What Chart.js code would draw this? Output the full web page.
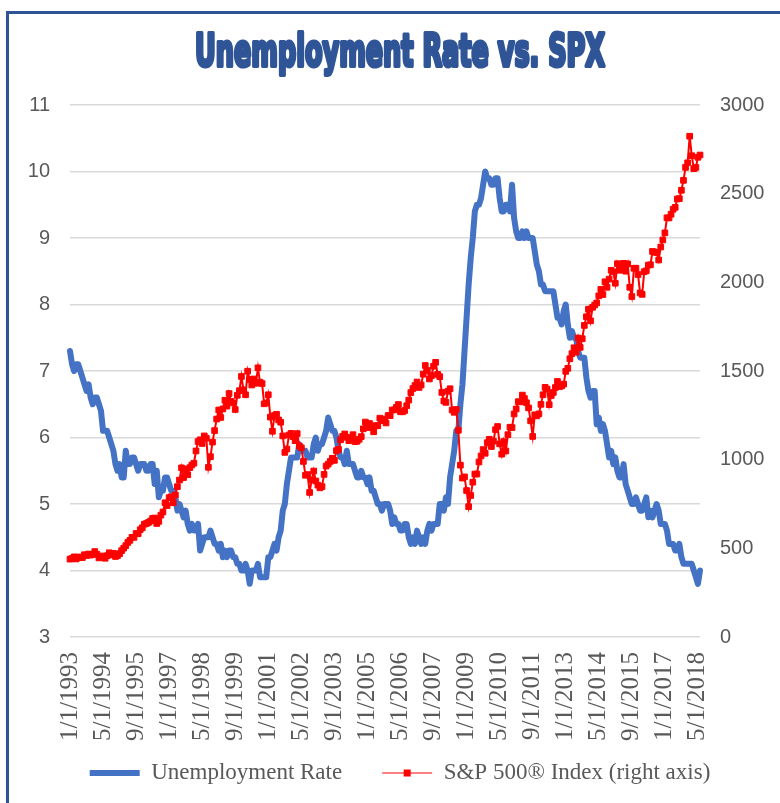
<!DOCTYPE html>
<html>
<head>
<meta charset="utf-8">
<script src="https://cdn.jsdelivr.net/npm/chart.js@4.4.1/dist/chart.umd.min.js"></script>
<style>
  html, body { margin: 0; padding: 0; background: #fff; overflow: hidden; }
  #wrap { position: relative; width: 780px; height: 803px; }
  #frame { position: absolute; left: 6px; top: 11px; width: 820px; height: 840px; border: 3px solid #2F5597; box-sizing: border-box; }
  #chart { position: absolute; left: 0; top: 0; }
</style>
</head>
<body>
<div id="wrap">
  <div id="frame"></div>
  <canvas id="chart" width="780" height="803"></canvas>
</div>
<script>
// 月次データ 1993年1月 〜 2018年6月
const START_YEAR = 1993;
const TITLE = 'Unemployment Rate vs. SPX';
const TICK_LABELS = [
  '1/1/1993', '5/1/1994', '9/1/1995', '1/1/1997', '5/1/1998', '9/1/1999', '1/1/2001',
  '5/1/2002', '9/1/2003', '1/1/2005', '5/1/2006', '9/1/2007', '1/1/2009', '5/1/2010',
  '9/1/2011', '1/1/2013', '5/1/2014', '9/1/2015', '1/1/2017', '5/1/2018',
];
const TICK_EVERY = 16;

// 失業率 (%)
const unemployment = [
  7.3, 7.1, 7.0, 7.1, 7.1, 7.0, 6.9, 6.8, 6.7, 6.8, 6.6, 6.5,
  6.6, 6.6, 6.5, 6.4, 6.1, 6.1, 6.1, 6.0, 5.9, 5.8, 5.6, 5.5,
  5.6, 5.4, 5.4, 5.8, 5.6, 5.6, 5.7, 5.7, 5.6, 5.5, 5.6, 5.6,
  5.6, 5.5, 5.5, 5.6, 5.6, 5.3, 5.5, 5.1, 5.2, 5.2, 5.4, 5.4,
  5.3, 5.2, 5.2, 5.1, 4.9, 5.0, 4.9, 4.8, 4.9, 4.7, 4.6, 4.7,
  4.6, 4.6, 4.7, 4.3, 4.4, 4.5, 4.5, 4.5, 4.6, 4.5, 4.4, 4.4,
  4.3, 4.4, 4.2, 4.3, 4.2, 4.3, 4.3, 4.2, 4.2, 4.1, 4.1, 4.0,
  4.0, 4.1, 4.0, 3.8, 4.0, 4.0, 4.0, 4.1, 3.9, 3.9, 3.9, 3.9,
  4.2, 4.2, 4.3, 4.4, 4.3, 4.5, 4.6, 4.9, 5.0, 5.3, 5.5, 5.7,
  5.7, 5.7, 5.7, 5.9, 5.8, 5.8, 5.8, 5.7, 5.7, 5.7, 5.9, 6.0,
  5.8, 5.9, 5.9, 6.0, 6.1, 6.3, 6.2, 6.1, 6.1, 6.0, 5.8, 5.7,
  5.7, 5.6, 5.8, 5.6, 5.6, 5.6, 5.5, 5.4, 5.4, 5.5, 5.4, 5.4,
  5.3, 5.4, 5.2, 5.2, 5.1, 5.0, 5.0, 4.9, 5.0, 5.0, 5.0, 4.9,
  4.7, 4.8, 4.7, 4.7, 4.6, 4.6, 4.7, 4.7, 4.5, 4.4, 4.5, 4.4,
  4.6, 4.5, 4.4, 4.5, 4.4, 4.6, 4.7, 4.6, 4.7, 4.7, 4.7, 5.0,
  5.0, 4.9, 5.1, 5.0, 5.4, 5.6, 5.8, 6.1, 6.1, 6.5, 6.8, 7.3,
  7.8, 8.3, 8.7, 9.0, 9.4, 9.5, 9.5, 9.6, 9.8, 10.0, 9.9, 9.9,
  9.8, 9.8, 9.9, 9.9, 9.6, 9.4, 9.4, 9.5, 9.5, 9.4, 9.8, 9.3,
  9.1, 9.0, 9.0, 9.1, 9.0, 9.1, 9.0, 9.0, 9.0, 8.8, 8.6, 8.5,
  8.3, 8.3, 8.2, 8.2, 8.2, 8.2, 8.2, 8.0, 7.8, 7.8, 7.7, 7.9,
  8.0, 7.7, 7.5, 7.6, 7.5, 7.5, 7.3, 7.2, 7.2, 7.2, 6.9, 6.7,
  6.6, 6.7, 6.7, 6.2, 6.3, 6.1, 6.2, 6.1, 5.9, 5.7, 5.8, 5.6,
  5.7, 5.5, 5.4, 5.4, 5.6, 5.3, 5.2, 5.1, 5.0, 5.0, 5.1, 5.0,
  4.9, 4.9, 5.0, 5.1, 4.8, 4.9, 4.8, 4.9, 5.0, 4.9, 4.7, 4.7,
  4.7, 4.6, 4.4, 4.4, 4.4, 4.3, 4.3, 4.4, 4.2, 4.1, 4.1, 4.1,
  4.1, 4.1, 4.0, 3.9, 3.8, 4.0,
];

// S&P 500 月末終値
const spx = [
  439, 443, 452, 440, 450, 451, 448, 464, 459, 468, 462, 466,
  482, 467, 446, 451, 457, 444, 458, 475, 463, 472, 454, 459,
  470, 487, 501, 515, 533, 545, 562, 562, 584, 582, 605, 616,
  636, 640, 646, 654, 669, 671, 640, 652, 687, 705, 757, 741,
  786, 791, 757, 801, 848, 885, 954, 899, 947, 915, 955, 970,
  980, 1049, 1102, 1112, 1091, 1134, 1121, 957, 1017, 1099, 1164, 1229,
  1280, 1238, 1286, 1335, 1302, 1373, 1329, 1320, 1283, 1363, 1389, 1469,
  1394, 1366, 1499, 1452, 1421, 1455, 1431, 1518, 1437, 1429, 1315, 1320,
  1366, 1240, 1160, 1249, 1256, 1224, 1211, 1134, 1041, 1060, 1139, 1148,
  1130, 1107, 1147, 1077, 1067, 990, 912, 916, 815, 886, 936, 880,
  856, 841, 848, 917, 964, 975, 990, 1008, 996, 1051, 1058, 1112,
  1131, 1145, 1126, 1107, 1121, 1141, 1102, 1104, 1115, 1130, 1174, 1212,
  1181, 1204, 1181, 1157, 1192, 1191, 1234, 1220, 1229, 1207, 1249, 1248,
  1280, 1281, 1295, 1311, 1270, 1270, 1277, 1304, 1336, 1378, 1401, 1418,
  1438, 1407, 1421, 1482, 1531, 1503, 1455, 1474, 1527, 1549, 1481, 1468,
  1379, 1331, 1323, 1386, 1400, 1280, 1267, 1283, 1166, 969, 896, 903,
  826, 735, 798, 873, 919, 919, 987, 1021, 1057, 1036, 1096, 1115,
  1074, 1104, 1169, 1187, 1089, 1031, 1102, 1049, 1141, 1183, 1181, 1258,
  1286, 1327, 1326, 1364, 1345, 1321, 1292, 1219, 1131, 1253, 1247, 1258,
  1312, 1366, 1408, 1398, 1310, 1362, 1379, 1407, 1441, 1412, 1416, 1426,
  1498, 1515, 1569, 1598, 1631, 1606, 1686, 1633, 1682, 1757, 1806, 1848,
  1783, 1859, 1872, 1884, 1924, 1960, 1931, 2003, 1972, 2018, 2068, 2059,
  1995, 2105, 2068, 2086, 2107, 2063, 2104, 1972, 1920, 2079, 2080, 2044,
  1940, 1932, 2060, 2065, 2097, 2099, 2174, 2171, 2168, 2126, 2199, 2239,
  2279, 2364, 2363, 2384, 2412, 2423, 2470, 2472, 2519, 2575, 2648, 2674,
  2824, 2714, 2641, 2648, 2705, 2718,
];

const months = unemployment.map((_, i) => `${(i % 12) + 1}/1/${START_YEAR + Math.floor(i / 12)}`);

const COLORS = {
  unemp: '#4472C4',
  spx: '#FF0000',
  title: '#2F5597',
  text: '#595959',
  grid: '#D9D9D9',
};
const SERIF = "'Liberation Serif', 'Times New Roman', serif";

// タイトル（横に詰めた太字）
const titlePlugin = {
  id: 'sheetTitle',
  afterDraw(chart) {
    const { ctx } = chart;
    ctx.save();
    ctx.font = "bold 44px 'Liberation Sans Narrow', 'DejaVu Sans Condensed', 'Liberation Sans', sans-serif";
    const w = ctx.measureText(TITLE).width;
    ctx.translate(400, 66);
    ctx.scale(410 / w, 1);
    ctx.textAlign = 'center';
    ctx.textBaseline = 'alphabetic';
    ctx.fillStyle = COLORS.title;
    ctx.strokeStyle = COLORS.title;
    ctx.lineWidth = 4;
    ctx.lineJoin = 'round';
    ctx.fillText(TITLE, 0, 0);
    ctx.strokeText(TITLE, 0, 0);
    ctx.restore();
  },
};

// 凡例: 項目間を広く取ったまま縦位置を上げ、赤線にマーカーを追加
const legendTweak = {
  id: 'legendTweak',
  afterLayout(chart) {
    const lg = chart.legend;
    if (!lg) return;
    lg.top -= 20.5;
    lg.height = lg.bottom - lg.top;
  },
  afterDraw(chart) {
    const boxes = chart.legend && chart.legend.legendHitBoxes;
    if (!boxes || boxes.length < 2) return;
    const b = boxes[1];
    const { ctx } = chart;
    ctx.save();
    ctx.fillStyle = COLORS.spx;
    ctx.fillRect(b.left + 25 - 3.5, b.top + b.height / 2 - 3.5, 7, 7);
    ctx.restore();
  },
};

Chart.defaults.font.family = "'Liberation Sans', Arial, sans-serif";
Chart.defaults.color = COLORS.text;

new Chart(document.getElementById('chart'), {
  type: 'line',
  data: {
    labels: months,
    datasets: [
      {
        label: 'Unemployment Rate',
        data: unemployment,
        yAxisID: 'y',
        borderColor: COLORS.unemp,
        backgroundColor: COLORS.unemp,
        borderWidth: 6,
        borderCapStyle: 'round',
        borderJoinStyle: 'round',
        pointRadius: 0,
        tension: 0,
        order: 1,
      },
      {
        label: 'S&P 500® Index (right axis)',
        data: spx,
        yAxisID: 'y1',
        borderColor: COLORS.spx,
        backgroundColor: COLORS.spx,
        borderWidth: 2,
        pointStyle: 'rect',
        pointRadius: 4,
        pointBorderWidth: 1,
        pointBackgroundColor: COLORS.spx,
        pointBorderColor: COLORS.spx,
        tension: 0,
        order: 0,
      },
    ],
  },
  options: {
    responsive: false,
    animation: false,
    layout: { padding: { top: 105, bottom: 8, left: 20, right: 0 } },
    plugins: {
      title: { display: false },
      tooltip: { enabled: false },
      legend: {
        position: 'bottom',
        maxHeight: 53,
        labels: {
          usePointStyle: true,
          pointStyle: 'line',
          pointStyleWidth: 50,
          padding: 40,
          color: COLORS.text,
          font: { family: SERIF, size: 23 },
          sort: (a, b) => a.datasetIndex - b.datasetIndex,
        },
      },
    },
    scales: {
      x: {
        grid: { display: false },
        border: { display: false },
        ticks: {
          autoSkip: false,
          maxRotation: 90,
          minRotation: 90,
          padding: 7,
          color: COLORS.text,
          font: { family: SERIF, size: 25 },
          callback: (value, index) => (index % TICK_EVERY === 0 ? TICK_LABELS[index / TICK_EVERY] : ''),
        },
        afterFit: (scale) => { scale.height = 105; },
      },
      y: {
        position: 'left',
        min: 3,
        max: 11,
        grid: { color: COLORS.grid, lineWidth: 1.5, drawTicks: false },
        border: { display: false },
        ticks: { stepSize: 1, padding: 20, color: COLORS.text, font: { size: 20 } },
        afterFit: (scale) => { scale.width = 50; },
      },
      y1: {
        position: 'right',
        min: 0,
        max: 3000,
        grid: { display: false, drawTicks: false },
        border: { display: false },
        ticks: {
          stepSize: 500,
          padding: 20,
          color: COLORS.text,
          font: { size: 20 },
          callback: (v) => String(v),
        },
        afterFit: (scale) => { scale.width = 80; },
      },
    },
  },
  plugins: [titlePlugin, legendTweak],
});
</script>
</body>
</html>
